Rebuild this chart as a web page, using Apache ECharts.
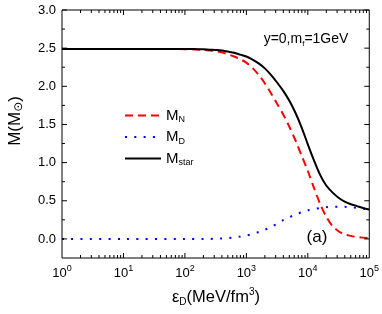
<!DOCTYPE html>
<html>
<head>
<meta charset="utf-8">
<script src="https://cdn.jsdelivr.net/npm/echarts@6/dist/echarts.min.js"></script>
<style>html,body{margin:0;padding:0;background:#fff;}#c{width:382px;height:314px;}</style>
</head>
<body>
<div id="c"></div>
<script>
// energy density epsilon_D (MeV/fm^3)
var eps = [1, 10, 100, 126, 158, 200, 251, 316, 398, 501, 631, 794,
  1000, 1259, 1585, 1995, 2512, 3162, 3981, 5012, 6310, 7943,
  10000, 12589, 15849, 19953, 25119, 31623, 39811, 50119, 63096, 79433, 100000];
var MN = [2.49, 2.49, 2.487, 2.485, 2.482, 2.478, 2.47, 2.46, 2.445, 2.42, 2.39, 2.355,
  2.31, 2.24, 2.15, 2.04, 1.91, 1.77, 1.63, 1.47, 1.29, 1.09,
  0.89, 0.67, 0.46, 0.29, 0.17, 0.10, 0.06, 0.04, 0.025, 0.017, 0.012];
var MD = [0, 0, 0, 0, 0, 0, 0, 0.002, 0.005, 0.01, 0.02, 0.03,
  0.045, 0.065, 0.09, 0.12, 0.155, 0.20, 0.245, 0.285, 0.32, 0.35,
  0.375, 0.39, 0.405, 0.415, 0.42, 0.42, 0.42, 0.415, 0.405, 0.395, 0.385];
var MS = [2.49, 2.49, 2.489, 2.488, 2.487, 2.485, 2.48, 2.476, 2.47, 2.455, 2.44, 2.415,
  2.39, 2.35, 2.30, 2.235, 2.15, 2.05, 1.94, 1.81, 1.65, 1.46,
  1.24, 1.03, 0.84, 0.70, 0.61, 0.54, 0.49, 0.455, 0.43, 0.405, 0.385];
var yMajor = [0, 0.5, 1.0, 1.5, 2.0, 2.5, 3.0];
var yMinor = [0.25, 0.75, 1.25, 1.75, 2.25, 2.75];
var xMajor = [1, 10, 100, 1000, 10000, 100000];
var xMinor = [2, 3, 4, 5, 6, 7, 8, 9, 20, 30, 40, 50, 60, 70, 80, 90,
  200, 300, 400, 500, 600, 700, 800, 900, 2000, 3000, 4000, 5000, 6000, 7000, 8000, 9000,
  20000, 30000, 40000, 50000, 60000, 70000, 80000, 90000];

var X_MIN = 1, X_MAX = 100000, Y_MIN = -0.25, Y_MAX = 3.0;
var GRID = { left: 62, right: 11, top: 10, bottom: 56 };
var W = 382 - GRID.left - GRID.right, H = 314 - GRID.top - GRID.bottom;
var MAJ = 5, MINL = 3; // tick lengths in px

function pairs(ys) { return eps.map(function (e, i) { return [e, ys[i]]; }); }

var font = 'Liberation Sans, Arial, sans-serif';

// tick marks as tiny line segments drawn through the axes (length converted from px)
function tickSeries(a, b) {
  return { type: 'line', data: [a, b], symbol: 'none', showSymbol: false, silent: true, clip: false,
    animation: false, z: 3, lineStyle: { color: '#000', width: 1 }, emphasis: { disabled: true }, tooltip: { show: false } };
}
var tickList = [];
function yTick(v, len) {
  var f = Math.pow(10, len * 5 / W);
  tickList.push(tickSeries([X_MIN, v], [X_MIN * f, v]));
  tickList.push(tickSeries([X_MAX / f, v], [X_MAX, v]));
}
function xTick(v, len) {
  var d = len * (Y_MAX - Y_MIN) / H;
  tickList.push(tickSeries([v, Y_MIN], [v, Y_MIN + d]));
  tickList.push(tickSeries([v, Y_MAX - d], [v, Y_MAX]));
}
yMajor.forEach(function (v) { yTick(v, MAJ); });
yMinor.forEach(function (v) { yTick(v, MINL); });
xMajor.slice(1, -1).forEach(function (v) { xTick(v, MAJ); });
xMinor.forEach(function (v) { xTick(v, MINL); });

var texts = [
  { type: 'text', x: 15, y: 121, rotation: Math.PI / 2,
    style: { text: '{m|M(M}{s|\u2299}{m|)}', align: 'center', verticalAlign: 'middle',
      rich: { m: { fontSize: 17, fontFamily: font, fill: '#000', verticalAlign: 'middle', lineHeight: 20 },
              s: { fontSize: 12, fontFamily: 'DejaVu Sans', fill: '#000', verticalAlign: 'bottom', lineHeight: 20, padding: [6, 0, 0, 0] } } } },
  { type: 'text', x: 216, y: 297,
    style: { text: '{m|\u03b5}{s|D}{m|(MeV/fm}{p|3}{m|)}', align: 'center', verticalAlign: 'middle',
      rich: { m: { fontSize: 16.5, fontFamily: font, fill: '#000', verticalAlign: 'middle', lineHeight: 20 },
              s: { fontSize: 10, fontFamily: font, fill: '#000', verticalAlign: 'bottom', lineHeight: 20, padding: [6, 0, 0, 0] },
              p: { fontSize: 10, fontFamily: font, fill: '#000', verticalAlign: 'top', lineHeight: 20, padding: [0, 0, 7, 0] } } } },
  { type: 'text', x: 306, y: 39,
    style: { text: '{m|y=0,m}{s|f}{m|=1GeV}', align: 'center', verticalAlign: 'middle',
      rich: { m: { fontSize: 14, fontFamily: font, fill: '#000', verticalAlign: 'middle', lineHeight: 18 },
              s: { fontSize: 8, fontFamily: font, fill: '#000', verticalAlign: 'bottom', lineHeight: 18, padding: [5, 0, 0, 0] } } } },
  { type: 'text', x: 317, y: 237,
    style: { text: '(a)', align: 'center', verticalAlign: 'middle', fontSize: 17, fontFamily: font, fill: '#000' } }
];

var option = {
  animation: false,
  backgroundColor: '#fff',
  grid: { left: GRID.left, right: GRID.right, top: GRID.top, bottom: GRID.bottom, show: true, borderColor: '#000', borderWidth: 1, backgroundColor: 'transparent' },
  xAxis: {
    type: 'log', logBase: 10, min: X_MIN, max: X_MAX,
    axisLine: { show: false, onZero: false }, splitLine: { show: false }, axisTick: { show: false }, minorTick: { show: false },
    axisLabel: {
      show: true, margin: 6,
      formatter: function (v) { return '{b|10}{s|' + Math.round(Math.log10(v)) + '}'; },
      rich: {
        b: { fontSize: 13, fontFamily: font, color: '#000', verticalAlign: 'bottom', lineHeight: 16 },
        s: { fontSize: 9, fontFamily: font, color: '#000', verticalAlign: 'top', lineHeight: 16, padding: [0, 0, 6, 0] }
      }
    }
  },
  yAxis: {
    type: 'value', min: Y_MIN, max: Y_MAX, interval: 0.25,
    axisLine: { show: false, onZero: false }, splitLine: { show: false }, axisTick: { show: false },
    axisLabel: {
      show: true, fontSize: 13, fontFamily: font, color: '#000', margin: 6,
      formatter: function (v) {
        var t = v * 2;
        return (v >= 0 && Math.abs(t - Math.round(t)) < 1e-6) ? v.toFixed(1) : '';
      }
    }
  },
  legend: {
    orient: 'vertical', left: 119, top: 103, itemWidth: 36, itemHeight: 10, itemGap: 5,
    data: ['M_N', 'M_D', 'M_star'],
    itemStyle: { opacity: 0 },
    formatter: function (n) { return { 'M_N': '{m|M}{s|N}', 'M_D': '{m|M}{s|D}', 'M_star': '{m|M}{s|star}' }[n]; },
    textStyle: {
      fontFamily: font, color: '#000',
      rich: {
        m: { fontSize: 15, fontFamily: font, color: '#000', verticalAlign: 'middle', lineHeight: 18 },
        s: { fontSize: 9, fontFamily: font, color: '#000', verticalAlign: 'bottom', lineHeight: 18, padding: [5, 0, 0, 0] }
      }
    }
  },
  series: [
    { name: 'M_N', type: 'line', data: pairs(MN), smooth: 0.3, symbol: 'none', showSymbol: false,
      lineStyle: { color: '#ff0000', width: 2, type: [8, 5] }, itemStyle: { color: '#ff0000' } },
    { name: 'M_D', type: 'line', data: pairs(MD), smooth: 0.3, symbol: 'none', showSymbol: false,
      lineStyle: { color: '#0000ff', width: 2, type: [2, 7.3] }, itemStyle: { color: '#0000ff' } },
    { name: 'M_star', type: 'line', data: pairs(MS), smooth: 0.3, symbol: 'none', showSymbol: false,
      lineStyle: { color: '#000000', width: 2 }, itemStyle: { color: '#000000' } }
  ].concat(tickList),
  graphic: { elements: texts }
};
var chart = echarts.init(document.getElementById('c'), null, { renderer: 'canvas' });
chart.setOption(option);
</script>
</body>
</html>
